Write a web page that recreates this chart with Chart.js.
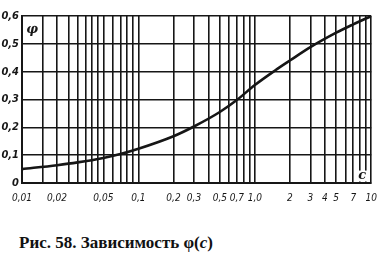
<!DOCTYPE html>
<html>
<head>
<meta charset="utf-8">
<script src="https://cdn.jsdelivr.net/npm/chart.js@4"></script>
<style>
  body { margin: 0; background: #fff; width: 386px; height: 268px; overflow: hidden; }
  #wrap { position: absolute; left: 0; top: 0; width: 386px; height: 215px; }
  #caption {
    position: absolute; left: 19px; top: 233px;
    font: bold 17px "Liberation Serif", "Times New Roman", serif; color: #111;
  }
</style>
</head>
<body>
<div id="wrap"><canvas id="graphCanvas" width="386" height="215"></canvas></div>
<div id="caption">Рис. 58. Зависимость φ(<i>c</i>)</div>
<script>
// curve phi(c)
const cValues = [0.01, 0.02, 0.03, 0.05, 0.07, 0.1, 0.2, 0.3, 0.5, 0.7, 1.0, 1.5, 2, 3, 5, 7, 10];
const phiValues = [0.05, 0.064, 0.074, 0.09, 0.104, 0.123, 0.168, 0.203, 0.255, 0.298, 0.352, 0.405, 0.44, 0.488, 0.54, 0.57, 0.6];

// log paper grid lines and labelled ticks
const xGrid = [0.01, 0.015, 0.02, 0.025, 0.03, 0.035, 0.04, 0.045, 0.05, 0.06, 0.07, 0.08, 0.09,
  0.1, 0.2, 0.3, 0.4, 0.5, 0.6, 0.7, 0.8, 0.9, 1, 2, 3, 4, 5, 6, 7, 8, 9, 10];
const xTicks = [0.01, 0.02, 0.05, 0.1, 0.2, 0.3, 0.5, 0.7, 1, 2, 3, 4, 5, 7, 10];
const xTickLabels = ["0,01", "0,02", "0,05", "0,1", "0,2", "0,3", "0,5", "0,7", "1,0", "2", "3", "4", "5", "7", "10"];
const yTicks = [0, 0.1, 0.2, 0.3, 0.4, 0.5, 0.6];
const yTickLabels = ["0", "0,1", "0,2", "0,3", "0,4", "0,5", "0,6"];

const ink = "#161616";
const fontFamily = "'DejaVu Sans Condensed', 'DejaVu Sans'";

function labelFor(value, ticks, labels) {
  const i = ticks.findIndex(t => Math.abs(t - value) < 1e-9);
  return i < 0 ? "" : labels[i];
}

// white cells holding the axis letters
const letterBoxes = {
  id: "letterBoxes",
  beforeDatasetsDraw(chart) {
    const { ctx, scales: { x, y } } = chart;
    const cell = (c0, c1, p0, p1, text) => {
      const l = x.getPixelForValue(c0), r = x.getPixelForValue(c1);
      const t = y.getPixelForValue(p1), b = y.getPixelForValue(p0);
      ctx.save();
      ctx.fillStyle = "#fff";
      ctx.fillRect(l + 1.5, t + 1.5, r - l - 3, b - t - 3);
      ctx.fillStyle = ink;
      ctx.font = "italic bold 13px 'DejaVu Serif'";
      ctx.textAlign = "center";
      ctx.textBaseline = "middle";
      ctx.fillText(text, (l + r) / 2, (t + b) / 2);
      ctx.restore();
    };
    cell(0.01, 0.015, 0.5, 0.6, "φ");
    cell(7, 10, 0, 0.05, "c");
  }
};

const graphCtx = document.getElementById("graphCanvas").getContext("2d");
new Chart(graphCtx, {
  type: "line",
  data: {
    datasets: [{
      data: cValues.map((c, i) => ({ x: c, y: phiValues[i] })),
      borderColor: ink, borderWidth: 2.6, pointRadius: 0,
      cubicInterpolationMode: "monotone", fill: false
    }]
  },
  options: {
    animation: false, responsive: false,
    layout: { padding: { top: 16, right: 11, left: 0, bottom: 0 } },
    plugins: { legend: { display: false }, tooltip: { enabled: false } },
    scales: {
      x: {
        type: "logarithmic", min: 0.01, max: 10,
        afterBuildTicks: s => { s.ticks = xGrid.map(v => ({ value: v })); },
        afterFit: s => { s.height = 32; },
        grid: { color: ink, lineWidth: 1.6, drawTicks: false },
        border: { color: ink, width: 2 },
        ticks: {
          autoSkip: false, maxRotation: 0, padding: 9, color: ink,
          font: { family: fontFamily, size: 10, style: "italic", weight: "normal" },
          callback: v => labelFor(v, xTicks, xTickLabels)
        }
      },
      y: {
        min: 0, max: 0.6,
        ticks: {
          stepSize: 0.05, padding: 3, color: ink,
          font: { family: fontFamily, size: 11, style: "italic", weight: "bold" },
          callback: v => labelFor(v, yTicks, yTickLabels)
        },
        afterFit: s => { s.width = 22; },
        grid: { color: ink, lineWidth: 1.6, drawTicks: false },
        border: { color: ink, width: 2 }
      }
    }
  },
  plugins: [letterBoxes]
});
</script>
</body>
</html>
